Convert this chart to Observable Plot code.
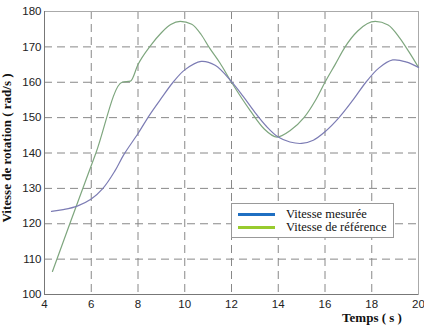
<!DOCTYPE html>
<html>
<head>
<meta charset="utf-8">
<script src="https://cdn.jsdelivr.net/npm/d3@7"></script>
<script src="https://cdn.jsdelivr.net/npm/@observablehq/plot@0.6"></script>
<style>
  html, body { margin: 0; padding: 0; background: #fff; }
  #wrap { position: relative; width: 424px; height: 328px; overflow: hidden; }
</style>
</head>
<body>
<div id="wrap"></div>
<script>
// Time axis and series values
const tMeasured = [4.3, 4.8, 5.4, 6.0, 6.5, 7.0, 7.4, 8.0, 8.5, 9.0, 9.5, 10.0, 10.7, 11.3, 12.0, 12.5, 13.0, 13.5, 14.0, 14.5, 15.0, 15.5, 16.0, 16.6, 17.2, 17.75, 18.3, 18.9, 19.5, 20.0];
const vMeasured = [123.5, 124.0, 125.0, 127.0, 130.0, 134.8, 139.6, 145.5, 150.8, 155.5, 160.0, 163.5, 165.9, 164.8, 160.2, 156.0, 151.5, 147.5, 144.5, 143.1, 142.7, 143.6, 146.0, 150.0, 155.0, 160.0, 164.0, 166.3, 165.7, 164.2];
const tReference = [4.34, 5.11, 6.2, 7.32, 7.68, 8.0, 8.53, 9.0, 9.4, 9.81, 10.3, 10.7, 11.03, 11.5, 12.0, 12.8, 13.4, 13.95, 14.5, 15.1, 15.6, 16.0, 16.45, 16.86, 17.4, 18.15, 18.7, 19.2, 19.6, 20.0];
const vReference = [106.5, 120.5, 140.0, 160.0, 160.3, 165.0, 170.3, 174.0, 176.3, 177.2, 176.4, 173.5, 170.0, 165.5, 160.0, 152.0, 146.8, 144.5, 146.3, 150.0, 155.0, 160.0, 165.2, 170.0, 174.5, 177.2, 176.2, 172.5, 168.5, 164.2];
const xTicks = [4, 6, 8, 10, 12, 14, 16, 18, 20];
const yTicks = [100, 110, 120, 130, 140, 150, 160, 170, 180];
const seriesNames = ["Vitesse mesurée", "Vitesse de référence"];
const lineColors = ["#7c7cb4", "#7ea67e"];
const legendColors = ["#1f6fc2", "#98cb2e"];
const yLabel = "Vitesse de rotation ( rad/s )";
const xLabel = "Temps ( s )";

const measured = tMeasured.map((t, i) => ({t, v: vMeasured[i]}));
const reference = tReference.map((t, i) => ({t, v: vReference[i]}));

const chart = Plot.plot({
  width: 424,
  height: 328,
  marginLeft: 44,
  marginRight: 6,
  marginTop: 11,
  marginBottom: 34,
  style: {fontFamily: "'Liberation Sans', Arial, sans-serif", fontSize: "11.5px", color: "#222", background: "#fff", overflow: "visible"},
  x: {domain: [4, 20], ticks: xTicks, tickSize: 0, tickPadding: 6, label: null},
  y: {domain: [100, 180], ticks: yTicks, tickSize: 0, tickPadding: 3, label: null},
  marks: [
    Plot.gridX(xTicks, {stroke: "#888", strokeOpacity: 1, strokeDasharray: "8,5"}),
    Plot.gridY(yTicks, {stroke: "#888", strokeOpacity: 1, strokeDasharray: "8,5"}),
    Plot.frame({stroke: "#aaa"}),
    Plot.ruleX([4], {stroke: "#777"}),
    Plot.ruleY([100], {stroke: "#777"}),
    Plot.axisX({ticks: xTicks, tickSize: 0, tickPadding: 5, label: null}),
    Plot.axisY({ticks: yTicks, tickSize: 0, tickPadding: 3, label: null}),
    Plot.line(reference, {x: "t", y: "v", stroke: lineColors[1], strokeWidth: 1.2, curve: "monotone-x"}),
    Plot.line(measured, {x: "t", y: "v", stroke: lineColors[0], strokeWidth: 1.2, curve: "catmull-rom"})
  ]
});

const wrap = document.getElementById("wrap");
wrap.appendChild(chart);

// Axis titles as real SVG text
const ns = "http://www.w3.org/2000/svg";
function addText(txt, attrs) {
  const el = document.createElementNS(ns, "text");
  for (const k in attrs) el.setAttribute(k, attrs[k]);
  el.textContent = txt;
  chart.appendChild(el);
  return el;
}
const serif = "'Liberation Serif', 'DejaVu Serif', serif";
addText(yLabel, {transform: "translate(11,148) rotate(-90)", "text-anchor": "middle", "font-family": serif, "font-weight": "bold", "font-size": "13", fill: "#111"});
addText(xLabel, {x: "372", y: "322", "text-anchor": "middle", "font-family": serif, "font-weight": "bold", "font-size": "13", fill: "#111"});

// Legend inside the plot area
const leg = document.createElement("div");
leg.style.cssText = "position:absolute;left:231px;top:203px;width:163px;height:35px;background:#fff;border:1px solid #999;box-sizing:border-box;";
seriesNames.forEach((name, i) => {
  const top = 4 + i * 13;
  const sw = document.createElement("div");
  sw.style.cssText = `position:absolute;left:6px;top:${top + 5}px;width:37px;height:3px;background:${legendColors[i]};`;
  const lab = document.createElement("div");
  lab.style.cssText = `position:absolute;left:54px;top:${top}px;height:13px;white-space:nowrap;line-height:13px;font-family:'Liberation Serif','DejaVu Serif',serif;font-size:12.5px;color:#111;`;
  lab.textContent = name;
  leg.appendChild(sw);
  leg.appendChild(lab);
});
wrap.appendChild(leg);
</script>
</body>
</html>
